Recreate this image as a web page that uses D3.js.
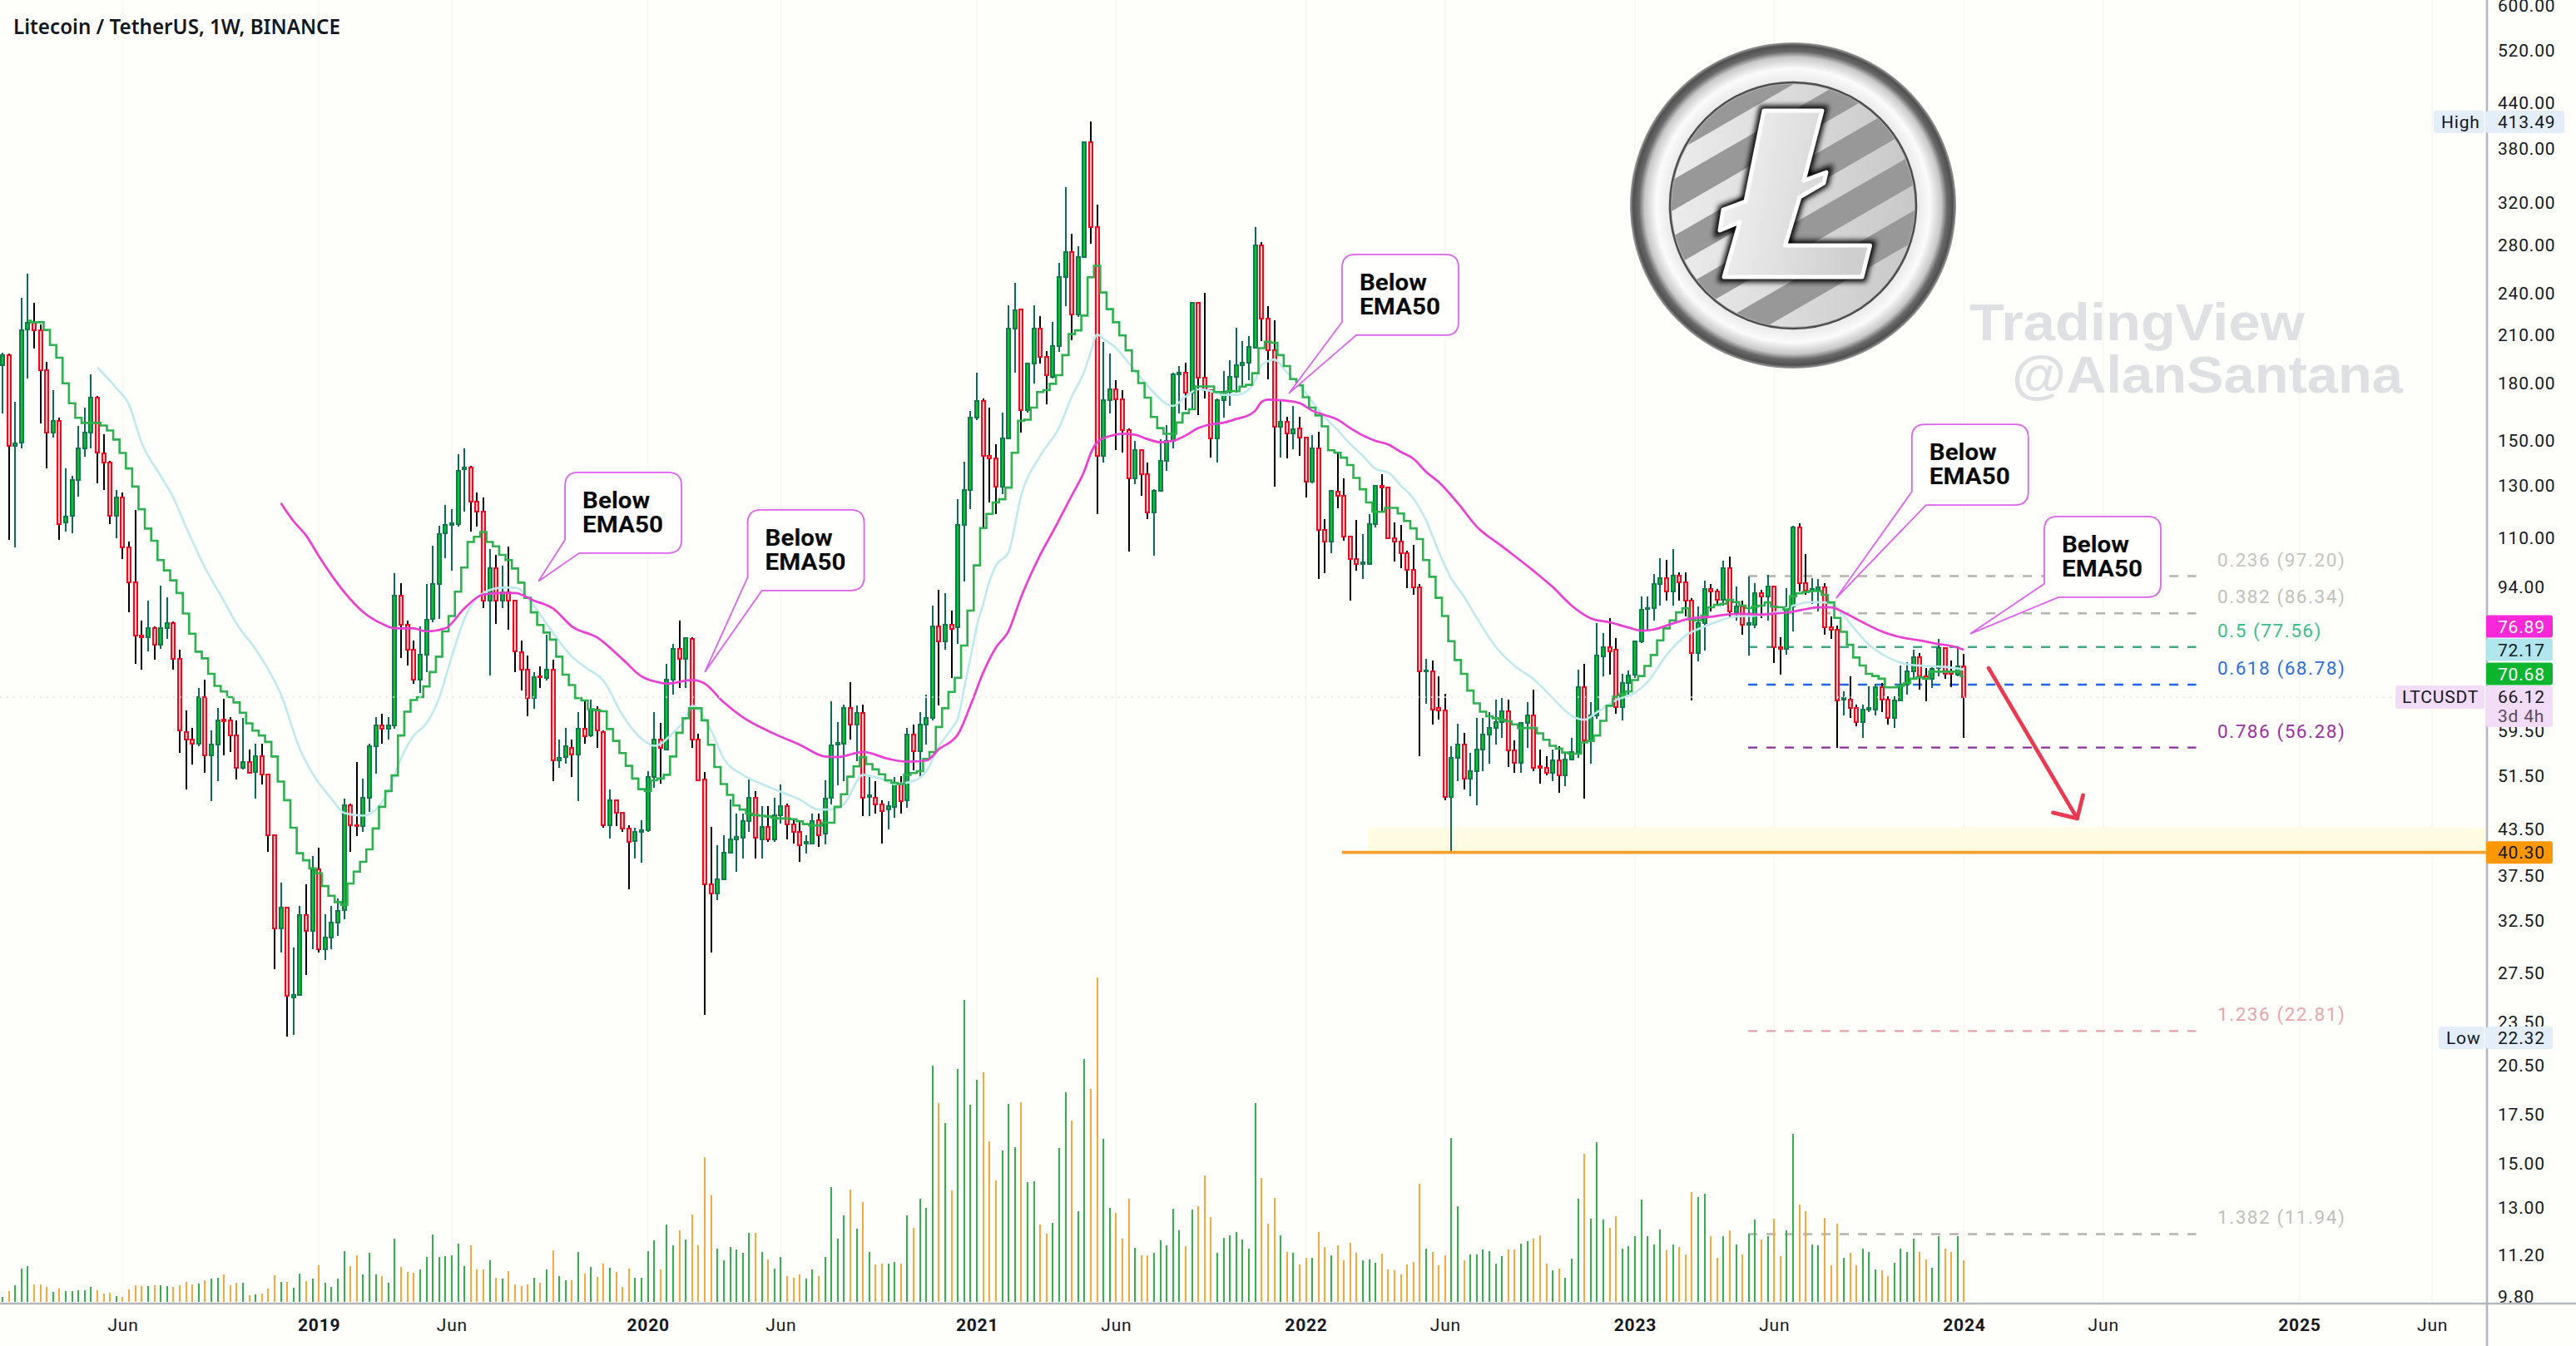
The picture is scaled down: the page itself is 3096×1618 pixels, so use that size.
<!DOCTYPE html>
<html><head><meta charset="utf-8">
<script src="https://cdnjs.cloudflare.com/ajax/libs/d3/7.8.5/d3.min.js"></script>
<style>
html,body{margin:0;padding:0;background:#fefffa;overflow:hidden}
svg{display:block}
.tk text{font-family:Roboto,sans-serif;font-size:21px;letter-spacing:.8px;fill:#131722}
.yr{font-weight:700}
</style></head><body><svg id="c" width="3096" height="1618"></svg>
<script>
const opens=[190.2,196.5,147.4,148.6,213.5,217.7,213,187.6,153.5,159.6,
115.2,117.9,132.2,146.2,153.5,171.9,143.9,139.7,117.9,124.8,
106.5,95.2,80.4,79.9,82.3,78.2,82.3,83.8,74.7,59.2,
57.8,57,66.1,54.9,56.8,61.6,61.3,58.5,52.8,53.7,
52.1,54.8,51.6,42.6,31.6,33.8,25.4,25.6,33,31.4,
38.2,29.6,30.7,32.2,33.5,46.8,44,43.8,47.9,56.6,
60.4,59.8,60.4,91.3,83.2,76.8,69.9,75.6,84.7,94.7,
111.3,114.4,114.6,136.5,137.4,123.3,119.4,89.9,99.6,89.9,
92.4,89.9,76.2,72.2,65.9,70.7,70.3,72.2,54.1,54.6,
56.3,55,59.7,58.5,63.6,59.2,43.9,47.6,45.7,43.5,
41.8,43,43.2,51.3,57.7,56,69.8,77.1,74.6,79.6,
57.7,50.8,36.4,35.4,37,40.3,42,42.2,44.5,48,
42,43.7,42,45.4,46.7,44.1,43,41.5,41.5,44.7,
42.8,48,56.9,57,63.8,60.6,62.8,48.1,48,46.9,
46.2,46.6,50.2,47.6,58.7,55.7,60.6,61.8,82.9,78.9,
83.3,82.5,114.5,127.8,161,169.9,142.6,141.3,129.4,150.9,
213.7,227.5,165.2,191.2,214,195.7,183.3,202.5,252.2,273,
224,269,387.3,295.6,142.6,170.3,176.2,170.6,154.9,132.8,
145.2,134.4,119.1,127.6,140.5,149.6,184.7,186,174.3,232,
183,175.9,150.9,170.3,174.8,183.3,190.5,191.7,201.5,278.6,
220.9,199.6,156.5,159,153,155.6,151.2,131.2,146.2,112.6,
108.6,127.2,125.4,110.3,102.6,100.9,101,114.8,129.7,128.8,
109.8,108.5,104.5,99.1,93.7,71.8,71.7,63.8,63.3,48.1,
54.5,56.8,51,52.2,55.9,58.7,60,61.1,63.2,55.8,
53.6,60.9,62.3,53,52.8,52,54.1,51.5,54.2,55.5,
68.3,57.6,62.3,75.3,77.5,76.9,64.1,69.2,71,79,
87.5,87.8,94.8,96.6,92.6,97.3,95.2,89.9,76.1,83.8,
93.2,92.6,90.2,99.8,86.7,88.3,83.3,83.3,92,91.2,
94.1,77.5,77,88.3,113.6,95,93,93.1,93.9,82.6,
81.9,65.6,65.6,63.9,61.1,63.5,63.6,68.3,65.6,61.8,
65.4,68.7,71.7,75,70.6,70,72.5,77.2,71.7,71,72.9];
const closes=[196.5,147.4,148.4,213,217.7,213,187.6,153.5,159.6,114.6,
117.4,132.2,146.2,153.5,171.9,144.1,139.7,117.9,125,106.5,
95.2,80.4,79.9,82.3,78.2,82.3,83.8,74.7,59.4,57.8,
57,66.1,54.9,56.8,61.4,61.2,58.5,52.8,53.7,52,
54.8,51.6,42.6,31.6,33.8,25.5,25.6,33,31.4,38.2,
29.6,30.7,32.2,33.4,46.8,43.9,43.9,47.9,56.5,60.4,
59.8,60.4,91.3,83.2,76.8,69.9,75.6,84.6,94.7,111.1,
114.4,115,136,137.4,123.3,119.4,89.8,99.6,89.9,92.4,
89.9,76.4,72.2,65.9,70.5,70.5,72.2,54,54.4,56.5,
55,59.7,58.4,63.6,59.4,43.9,47.6,45.7,43.5,41.7,
43,43.2,51.3,57.7,56.3,69.8,77.1,74.6,79.7,57.7,
50.7,36.4,35.4,37,40.3,42,42.3,44.5,48,42.2,
43.7,42,45.4,46.7,44.1,43,41.2,41.7,44.5,42.6,
47.8,56.7,57.1,63.8,60.6,62.8,47.9,48.3,46.9,46,
46.7,50.2,47.5,58.7,55.7,60.6,61.8,82.9,78.9,83.3,
82.2,114.5,127.8,161,169.9,142.6,141.3,129.4,150.9,213.7,
226.7,165.2,191.2,214,195.7,184.2,202.5,252.2,273,224,
269,387.3,295.6,142.6,170.3,176.2,170.6,154.9,132.8,145.2,
134.4,119.1,127.6,140.5,149.6,184.7,186,174.3,232,183,
175.9,150.9,170.3,174.8,183.3,190.5,191.7,201.7,278.6,220.9,
199.6,156.5,159,153,155.3,151.2,131.2,146.2,112.6,108.6,
127.6,125.4,110.3,102.6,100.9,101.5,114.8,129.7,128.8,109.8,
108.5,104.5,99.1,93.9,71.7,72,63.6,63.3,48.1,54.5,
56.8,51,52.2,55.9,58.7,60,61.1,63.2,55.8,53.6,
60.9,62.3,52.8,52.8,52,54.1,51.5,54.2,55.5,68.3,
57.6,62.3,75.5,77.5,76.5,64.1,69.2,70.9,79,87.4,
87.8,94.8,96.6,92.6,97.4,95.2,89.9,76.1,83.8,93.2,
92.6,90.2,99.8,86.8,88.3,83.3,83.6,92,91.2,94.1,
77.5,77,88,113.6,95,92.7,93.3,93.9,82.6,81.9,
65.4,65.9,63.9,61.1,63.6,63.8,68.3,65.6,61.8,65.4,
68.7,71.7,75,70.6,70,72.4,77.2,71.2,71.2,72.9,66.12];
const highs=[198,197.5,169.2,235.9,255,232.2,216.5,192.6,175.7,161,
137,133.8,156.7,166.5,185,172.5,152.8,140.5,128,126.9,
108.4,120,84.4,90,82.9,94.4,90.9,84.2,76.8,63.4,
59.9,68,69.8,59.5,63.9,65.8,62.1,61.4,61.9,56,
57,57,51.6,42.6,36.6,33.9,29.8,34,36.4,39.8,
40.9,33.1,34,34.8,47.8,47.1,53.7,51,57,62.1,
62.7,62.1,98.2,95,84.4,79.2,82.8,94.9,107,114,
121.9,120.3,143.2,146.2,138,127,124.8,106,104,100.4,
106.8,89.9,79.2,75.4,71.6,73,80.7,74.4,57.7,60,
57.7,63,65.5,65.5,64.2,59.4,49.3,47.6,45.8,44,
43.6,44.6,52.2,63,60.9,73.5,78.4,84.3,80.1,79.9,
58.8,52.1,43.7,41.2,42.6,47.7,45.6,45.6,50.8,49,
46.7,46.7,48,50,47.1,44.8,44.6,42.6,45.6,45.6,
50.7,65.2,61.1,64.6,69.3,64.3,64.5,51.2,50.6,47.6,
47.4,51.2,51.4,59.9,60.6,63,66.7,88.6,93,92,
87,124.2,140,164.7,186,171.3,166.3,147.9,163.8,230.7,
247.3,228,192,230.7,222.9,199.2,218.3,263.8,336,289.3,
278,388,413.5,317.8,205,197.8,181.6,176,155.8,149.4,
145.2,139.5,128.2,150.4,157.4,186,189.8,191.7,232.5,232.5,
240,176,171,187,193.2,214.4,205.8,209,295.6,281.7,
230,219.6,170.3,161.6,167,161.6,151.3,152.2,154,116.6,
128,143.9,132.8,110.5,116.2,111,118.3,130,134.4,129,
115.2,114.5,105.4,107.3,94.7,74.6,74.2,70.7,66.8,56.6,
60.8,59,55.3,61.9,61.9,63,65.6,66,65.6,57.6,
61,65.1,67.7,56,54.8,55.9,56.6,55.5,58,72.1,
73.4,65.1,83.8,81,85.1,79.8,71.2,72,79,91,
91.2,97.9,102.8,102.5,105.9,98.5,98.5,90.7,88.3,95.9,
94.7,93.3,102,103.5,94.1,89.9,97.1,95,93,97.7,
94.3,80,93.6,114,114.9,104.3,96.6,96.4,95,85.5,
83,67.4,70.7,64.5,64.5,68.4,69,69.1,66.3,66.3,
73.1,73.9,76.8,76.1,72.6,72.9,79.6,77.6,74.3,77.8,75.8];
const lows=[163.2,109,106.5,146.2,182.3,200.6,158,137,151.1,109.2,
111.9,111.3,125.3,142.3,146.2,130.5,128,114.6,109.8,102.7,
86.7,73.4,72.2,76.4,74.4,77,79.5,72.2,55.3,49.3,
53.3,56.6,52,47.4,50.6,54.9,55.5,50.8,52.5,51.8,
47.8,50,40.4,27.8,29.3,22.4,22.5,25.5,27.3,29.6,
29.3,28.6,29.6,30.9,32.6,40.4,42.4,43,45.8,51.8,
57,57.7,59.8,74.8,73.1,69,67,71.6,84,84.8,
103,99,113.7,119.4,111.9,113.7,87.7,70.9,83.5,87.7,
82,71.6,67.6,62.2,63.7,68,69.7,50.6,52.7,53.5,
51.2,47.4,57,58.2,56.3,43.6,42.1,43.8,43,35.8,
39.5,39,43,49.5,50.2,55.8,66.7,68,68,56.3,
50.6,24,29.3,34.6,36.9,40.2,37.9,39.5,43,39.5,
39.5,41.7,41.7,44.2,42,41.5,39.1,40.2,41.4,41,
41.3,46.9,49.9,50.6,57.8,53.9,45.3,45.3,45.6,41.4,
43.4,45,45.6,46.4,52.4,51.2,56.8,61.4,64.4,76.9,
70.3,78.4,95.5,120.4,160,113,123,118.6,126.2,150.4,
186,153.4,163.6,179.6,191.2,167.9,182.6,198.6,230,206.4,
222.1,268.6,280,118.3,139.7,163.2,145.2,144,105,130.4,
125.5,116.6,103.8,127.2,136,146,163.2,165.2,165.9,162.4,
171.3,141.8,139.7,161.2,167.2,174.3,177.8,181.3,200.7,205.8,
182.1,129.4,141.8,141.3,145.5,142.6,125,130.7,96.4,98,
104.5,120.8,108.7,90,99,96.4,100.9,113.4,119.7,109.5,
101.8,99.7,93.6,91.6,54.7,64.7,60.6,61.6,47.6,40.5,
50.6,49.3,48.2,46.8,52.2,53.4,56.9,58.1,52.9,52,
52,56.3,52.2,50.2,51.5,50.6,48.7,49.8,54.2,54.4,
47.8,53.4,61.7,70.7,71,62.7,61.3,66.7,70.2,78.6,
81.8,84.3,88.6,90,88.6,90,85.5,65.4,74.1,76.7,
86.9,88.7,88.5,85.1,84.3,80.7,75.4,82.3,85.1,84.3,
73.6,71,75.7,81.4,92.6,91.5,89,86.9,80.7,79.6,
56.2,62.3,61.9,60.2,58,63,62.4,63.1,60.6,59.9,
65.2,66.6,70.1,67.7,65.3,68.1,70.7,70,68.3,70.7,58];
const volumes=[1.9,3.9,6.1,12.1,13,6.4,6.4,5.4,3.6,4.8,
4,4,4.3,4.3,5.4,4.1,3.1,3.4,2.1,1.9,
4.4,6.1,5.8,5.8,6.1,6.1,5.6,5.3,6.1,7.3,
6.4,6.6,7.9,8.4,8.6,9.8,6.1,6.8,6.8,2.3,
2.6,2.9,4.9,9.6,7.3,7.1,5.1,10.3,7.6,8.3,
13.1,6.9,5.4,8.3,18.4,12.8,16.9,9.8,17.8,9.8,
9.4,6.8,22.9,12.6,10.9,10.6,11.6,16.3,24.4,16.3,
16.6,16.8,21.1,12.9,20.3,11.6,11.8,15.1,8.8,8.3,
11.1,6.4,5.6,6.4,8.8,6.8,11.6,18.6,9.4,7.8,
7.9,17.9,10.3,12.6,9.1,13.9,12.4,10.9,5.3,11.9,
8.6,8.8,18.4,22.3,11.6,27.9,20.4,25.9,22.6,31.6,
20.3,52.3,38.3,19.3,15.1,19.8,18.9,17.8,24.8,24.8,
18.1,15.4,12.1,16.3,9.4,8.8,9.8,8.3,11.6,9.4,
16.3,41.3,22.9,31.3,40.4,26.3,35.9,18.1,13.6,13.9,
13.9,14.4,13.9,31.3,26.6,37.3,33.8,85.3,71.9,64.6,
40.1,84.1,109.1,71.3,80.3,83,57.8,43.9,54.6,71.4,
55.9,72.1,43.3,43.6,27.8,24.6,28.6,55.6,75.6,65.6,
32.6,87.6,76.9,117.1,58.8,33.9,32.1,22.9,37.1,19.6,
16.9,16.9,17.8,22.1,20.4,33.6,25.9,20.1,33.4,34.6,
45.6,30.6,17.6,23.1,24.1,25.1,22.6,19.1,71.8,44.6,
28.3,37.4,24.1,18.1,17.8,13.4,15.9,15.9,25.3,19.9,
16.9,20.3,15.1,21.4,17.6,15.1,15.4,14.1,17.3,11.8,
11.3,9.9,13.4,14.4,42.6,19.3,17.9,13.3,16.9,59.1,
34.6,15.1,17.1,17.1,18.9,18.3,13.9,16.4,18.9,18.8,
21.1,21.9,22.9,24.1,13.9,11.3,12.1,8.8,15.6,37.1,
53.3,30.1,57.6,29.8,26.8,30.8,19.3,20.1,23.8,36.9,
23.8,20.8,26.1,18.6,20.8,19.9,17.1,39.6,37.8,39.1,
23.8,15.9,23.8,25.9,20.8,17.1,24.6,29.8,22.4,23.8,
30.1,16.6,25.8,60.8,35.1,32.8,20.8,20.4,30.4,13.3,
28.3,15.9,17.6,13.3,19.3,17.9,11.8,11.4,9.4,14.1,
19.3,18.1,22.9,17.9,15.4,12.4,23.8,19.1,18.1,23.8,15.1];
const emaGreenStart=4;
const emaGreen=[219.4,218.3,218.3,213,203,195,
179.7,168.6,161,158.4,158.4,158.4,157.1,154.6,150.2,143.9,
137,129.3,120.3,113.1,108.8,102.3,99,95.9,92.1,86.3,
80.9,76.4,74.8,71.2,68.5,67.3,66.1,65,62.9,60.8,
59.4,58.5,57.3,54.7,50.5,47.6,43.6,40.2,39.3,38.3,
37.7,36.2,35.1,34.4,34.1,36.5,37.9,39.1,40.7,43.5,
46.6,49,51.5,58.5,63.1,65.5,66.1,68.4,71.6,75.2,
81.5,85.6,92.5,99.9,108.4,110.2,111.9,108.4,106.9,104,
102.3,99.6,95.2,90.7,86.6,83.2,81.2,79.4,75.2,71,
68.7,65.9,65.4,63.6,63.4,63.2,59.7,57.5,55.3,53.1,
51,49.3,49,50.7,51,51.6,54.7,59,61.8,63.8,
63.8,61.4,56.8,52.9,50.1,48.4,46.8,46.2,45.6,45.4,
45.3,45.2,45,44.9,44.9,44.8,44.5,44.1,43.9,43.9,
44.3,44.3,46.6,48.5,51.3,53,54.6,53.4,52.5,51.7,
50.7,50.3,50.1,51.6,51.9,52.2,54.3,55.5,60.1,63.8,
67.2,70.3,77.9,87.1,100.6,113.3,118.5,122.9,124.2,128.9,
144,159.5,160,166.3,174.8,175.8,179.4,184.4,196.6,210.2,
212.7,223,252,261.3,240,227.6,218.3,209.3,199.6,186.9,
179.8,171.7,161.4,155.8,153,153,158.6,163.4,165.4,177.9,
177.9,177.9,174.8,174.4,175.3,175.3,177.8,178.8,185.6,201,
205.2,204.5,196.6,189.9,182.1,178.5,171.9,166.3,162.2,156.7,
145.2,144,141.8,138.5,132.9,128.2,122.9,119.3,119.3,120.8,
120.8,118.7,115.9,113.2,109.4,102.3,97,90.7,85.6,79,
74.4,71.2,67.5,64.8,63.1,62.2,61.8,61.5,61.2,60.6,
59.9,59.9,59.9,58.9,57.7,56.6,56.1,55.4,55.2,55.2,
57.2,57.5,58.5,61.3,64.3,66.2,66.7,67.3,69.8,70.7,
73,75.6,79.2,82.3,84.4,86.6,87.8,84.6,84.4,85.7,
88,88.7,89,90.1,89.5,88.5,87.8,88.2,88.5,89.4,
88.2,88,87.4,91.2,92,92.4,92.7,92.7,91.6,89.4,
85.1,81.4,78.1,75,73.1,71.2,70.7,70.1,68.2,68.2,
68.5,69.1,70.1,70.4,70.1,71.7,71.7,71.7,71.7,71.7,70.68];
const emaBlueWeeks=[15,18,20,22,25,27,29,32,35,37,40,42,44,47,49,52,54,57,59,61,63,65,67,69,71,73,75,76,79,81,84,86,90,92,95,98,101,103,106,108,109,112,114,117,120,123,126,129,131,133,136,139,141,144,146,148,150,151,152,153,154,155,156,157,159,161,164,167,169,171,172,173,174,176,178,180,182,184,185,187,189,191,193,195,197,198,199,200,201,203,205,207,209,211,213,215,217,219,221,223,225,227,229,231,233,236,239,242,245,248,250,252,255,258,260,263,266,269,271,274,277,280,283,286,288,290,292,295,298,301,304,307,310];
const emaBlue=[189,177,167.8,148.6,133.8,124.8,113.7,99.9,89.8,83.5,77,72.2,66.7,56,51.8,47.8,45.7,45.3,46.2,49,54.4,58.5,60.8,65.9,75.2,84.8,90.7,92.1,93.7,93.7,88.4,83.5,75.2,72.8,69.6,62.4,57.9,56.6,59,61.8,64.3,59.4,54.3,51.6,50.1,48.9,47.7,46.2,46.2,47,51.6,50.9,50.1,50.6,52.2,56.5,59.8,61.8,68,75,83,89,95.7,100.5,105,125.7,142.6,156.1,172.3,186.9,198.6,210,207,201,191.7,182.6,174.3,168.2,167.2,172.3,176.3,175.3,173.2,173.2,176.3,181.6,190.5,192.8,193.9,186,178.8,169.4,161.2,154.9,148.1,142.6,136.8,135.2,129.7,124.5,116,105,96.4,91,85.1,77.6,73,70,65.9,62.3,61.5,63,65.5,67,69.4,75.6,80.4,82.8,84.1,85.5,85.7,86.5,88.5,89.5,89.4,87.8,83.6,78.1,75,73.4,73,72.8,72.17];
const emaPinkWeeks=[44,46,48,50,52,54,57,60,62,65,67,70,73,76,79,81,84,87,90,94,98,101,104,105,109,111,114,117,122,126,130,132,136,140,143,146,148,151,153,155,157,159,161,164,166,169,171,172,173,175,177,179,181,183,185,187,189,191,193,195,197,198,199,200,202,205,207,209,211,213,215,217,219,221,223,225,227,230,233,237,242,245,248,251,254,257,259,261,264,267,270,272,275,278,281,283,285,287,289,291,294,297,300,303,306,308,310];
const emaPink=[122.7,115.8,110.6,103.6,97.5,92.4,86.7,83.5,82.3,82.3,81.5,82.3,87.7,91.7,92.1,92.1,89.9,87.7,82.8,79.9,74.6,70.6,69.2,69,69.8,69,65,62,58.8,56.8,54.7,54.6,55.5,54.3,53.8,54,56,58.7,64.4,71.5,77.4,81.6,91,104,112,125.7,136,143.8,148.9,151.9,153,152.5,150.4,148.9,149.6,152.2,155.8,157.7,158.5,160.4,162.4,164.7,169.4,170.6,170.3,168.7,164.7,162.4,160.1,155.8,152.2,149.6,147.9,144.4,141.3,135.5,131.2,122.7,113.8,106.9,98.8,93.9,88.5,85,83.9,82.5,81.7,82,83.6,85,85.4,85.9,86.2,86,86.4,86.8,87.5,88,88,86.6,83.9,81.5,80,79.2,78.3,77.8,76.89];
const priceTicks=[600,520,440,380,320,280,240,210,180,150,130,110,94,59.5,51.5,43.5,37.5,32.5,27.5,23.5,20.5,17.5,15,13,11.2,9.8];
const timeTickDates=["2018-06-04","2019-01-07","2019-06-03","2020-01-06","2020-06-01","2021-01-04","2021-06-07","2022-01-03","2022-06-06","2023-01-02","2023-06-05","2024-01-01","2024-06-03","2025-01-06","2025-06-02"];
const fibLevels=["0.236","0.382","0.5","0.618","0.786","1.236","1.382"];
const fibPrices=[97.20,86.34,77.56,68.78,56.28,22.81,11.94];
const fibLineColors=["#b4b4ac","#b4b4ac","#3fa985","#1a66ee","#8e2c9e","#e8a0a8","#b4b4ac"];
const fibTextColors=["#c4c4c0","#c0c0bc","#3dbd8d","#2e6fe0","#9b30a8","#eba5aa","#c0c0bc"];
const calloutWeeks=[84.7,111,203.3,289.8,311];
const calloutPrices=[95.6,71.6,174,90.6,80.9];
const calloutDx=[32,51.5,64,91,89];
const calloutDy=[-131,-195,-167,-209,-141];
const lastPrice=66.12, supportPrice=40.30, zoneTopPrice=43.6;
const supportLineStartWeek=211.7, zoneStartWeek=215.8, fibStartWeek=275.9, fibEndWeek=346.7;
const arrowStart=[313.9,72.5], arrowTip=[327.9,44.9];

const W=3096,H=1618,axisX=2989,axisY=1567;
const weekMs=7*864e5, t0=Date.UTC(2018,0,22);
const weekDate=i=>new Date(t0+i*weekMs);
const x=d3.scaleUtc().domain([weekDate(0),weekDate(310)]).range([3,2360.4]);
const xw=i=>x(weekDate(i));
const xr=i=>Math.round(xw(i));
const y=d3.scaleLog().domain([600,9.8]).range([6,1558]);
const yv=d3.scaleLinear().domain([0,117.1]).range([1565,1175]);
const svg=d3.select("#c");
const defs=svg.append("defs");
svg.append("rect").attr("width",W).attr("height",H).attr("fill","#fefffa");

// grid
const tickDates=timeTickDates.map(s=>new Date(s+"T00:00:00Z"));
svg.append("g").selectAll("line").data(tickDates).join("line")
 .attr("x1",d=>x(d)).attr("x2",d=>x(d)).attr("y1",0).attr("y2",axisY)
 .attr("stroke","#f8f8f0").attr("stroke-width",2);

// zone
svg.append("rect").attr("x",xw(zoneStartWeek)).attr("y",y(zoneTopPrice))
 .attr("width",axisX-xw(zoneStartWeek)).attr("height",y(supportPrice)-y(zoneTopPrice)).attr("fill","#fffce3");

// fib
const fg=svg.append("g");
fibPrices.forEach((p,i)=>{
 fg.append("line").attr("x1",xw(fibStartWeek)).attr("x2",xw(fibEndWeek)).attr("y1",y(p)).attr("y2",y(p))
  .attr("stroke",fibLineColors[i]).attr("stroke-width",2.4).attr("stroke-dasharray","11 11");
 fg.append("text").attr("x",2665).attr("y",y(p)-12).attr("fill",fibTextColors[i])
  .attr("font-family","Roboto,sans-serif").attr("font-size",22.5).attr("letter-spacing",1.55)
  .text(`${fibLevels[i]} (${p.toFixed(2)})`);
});

// volume
const idx=d3.range(opens.length);
const isUp=i=>closes[i]>=opens[i];
svg.append("g").attr("shape-rendering","crispEdges").selectAll("rect").data(idx).join("rect")
 .attr("x",i=>xr(i)-1).attr("width",2).attr("y",i=>yv(volumes[i])).attr("height",i=>yv(0)-yv(volumes[i]))
 .attr("fill",i=>isUp(i)?"#35b04c":"#f5a83e");

// candles
const cg=svg.append("g").attr("shape-rendering","crispEdges");
cg.selectAll("line").data(idx).join("line")
 .attr("x1",i=>xr(i)).attr("x2",i=>xr(i)).attr("y1",i=>y(highs[i])).attr("y2",i=>y(lows[i]))
 .attr("stroke",i=>isUp(i)?"#0e6a58":"#000").attr("stroke-width",2);
cg.selectAll("rect").data(idx).join("rect")
 .attr("x",i=>xr(i)-2).attr("width",4)
 .attr("y",i=>y(Math.max(opens[i],closes[i])))
 .attr("height",i=>Math.max(1.5,Math.abs(y(opens[i])-y(closes[i]))))
 .attr("fill",i=>isUp(i)?"#0bc52b":"#ffc8c8")
 .attr("stroke",i=>isUp(i)?"#0f7a4d":"#f0081e").attr("stroke-width",2);

// EMAs
const pts=(ws,vs)=>ws.map((w,i)=>[xw(w),y(vs[i])]);
const smooth=d3.line().curve(d3.curveMonotoneX);
svg.append("path").attr("d",smooth(pts(emaBlueWeeks,emaBlue))).attr("fill","none").attr("stroke","#bfe9ee").attr("stroke-width",2.6);
const greenPts=emaGreen.map((v,i)=>[xw(i+emaGreenStart),y(v)]);
svg.append("path").attr("d",d3.line().curve(d3.curveStep)(greenPts)).attr("fill","none").attr("stroke","#2db14e").attr("stroke-width",2.6);
svg.append("path").attr("d",smooth(pts(emaPinkWeeks,emaPink))).attr("fill","none").attr("stroke","#ea3fd2").attr("stroke-width",2.7);

// current price dotted + support line
svg.append("line").attr("x1",0).attr("x2",axisX).attr("y1",y(lastPrice)).attr("y2",y(lastPrice))
 .attr("stroke","#e2e2de").attr("stroke-width",1.5).attr("stroke-dasharray","2 6");
svg.append("line").attr("x1",xw(supportLineStartWeek)).attr("x2",axisX).attr("y1",y(supportPrice)).attr("y2",y(supportPrice))
 .attr("stroke","#f5a02e").attr("stroke-width",3.8);

// arrow
const tip=[xw(arrowTip[0]),y(arrowTip[1])], st=[xw(arrowStart[0]),y(arrowStart[1])];
const ag=svg.append("g").attr("fill","none").attr("stroke","#e83a50").attr("stroke-width",4.8).attr("stroke-linecap","round");
ag.append("line").attr("x1",st[0]).attr("y1",st[1]).attr("x2",tip[0]).attr("y2",tip[1]);
ag.append("path").attr("d",`M${tip[0]-29},${tip[1]-7}L${tip[0]},${tip[1]}L${tip[0]+7},${tip[1]-28}`).attr("stroke-linejoin","round");

// logo
(function(){
 const cx=2155,cy=247;
 const g=svg.append("g");
 const rg=(id,stops)=>{const d=defs.append("radialGradient").attr("id",id).attr("gradientUnits","userSpaceOnUse").attr("cx",cx).attr("cy",cy).attr("r",196);
  stops.forEach(s=>d.append("stop").attr("offset",s[0]).attr("stop-color",s[1]));};
 rg("ringG",[[0,"#fff"],[.74,"#e6e6e6"],[.84,"#fbfbfb"],[.91,"#c8c8c8"],[.945,"#686868"],[.98,"#505050"],[1,"#a0a0a0"]]);
 g.append("circle").attr("cx",cx).attr("cy",cy).attr("r",196).attr("fill","url(#ringG)");
 g.append("circle").attr("cx",cx).attr("cy",cy).attr("r",148).attr("fill","#b8b8b8").attr("stroke","#4d4d4d").attr("stroke-width",2.5);
 defs.append("clipPath").attr("id","disc").append("circle").attr("cx",cx).attr("cy",cy).attr("r",146);
 const lg=defs.append("linearGradient").attr("id","lightB").attr("x1",0).attr("x2",1).attr("y1",0).attr("y2",0);
 lg.append("stop").attr("offset",0).attr("stop-color","#ececec");lg.append("stop").attr("offset",1).attr("stop-color","#c8c8c8");
 const dg=g.append("g").attr("clip-path","url(#disc)");
 dg.append("circle").attr("cx",cx).attr("cy",cy).attr("r",146).attr("fill","url(#lightB)");
 const st=dg.append("g").attr("transform",`rotate(-30 ${cx} ${cy})`);
 [-142,-83,-24,35,94].forEach(v=>st.append("rect").attr("x",cx-220).attr("width",440).attr("y",cy+v-16).attr("height",32).attr("fill","#989898"));
 const L=[[2120,133],[2190,133],[2168,217],[2195,207],[2192,220],[2163,237],[2145.5,295],[2247.6,295],[2238,333],[2072,333],[2091,267],[2067,277],[2071,252],[2098,242]];
 const ds=defs.append("filter").attr("id","lsh").attr("x","-20%").attr("y","-20%").attr("width","140%").attr("height","140%");
 ds.append("feGaussianBlur").attr("stdDeviation",3);
 g.append("polygon").attr("points",L.join(" ")).attr("fill","#000").attr("stroke","#000").attr("stroke-width",12).attr("filter","url(#lsh)");
 const lf=defs.append("linearGradient").attr("id","lfill").attr("x1",0).attr("y1",0).attr("x2",1).attr("y2",.2);
 lf.append("stop").attr("offset",0).attr("stop-color","#f4f4f4");lf.append("stop").attr("offset",1).attr("stop-color","#cfcfcf");
 g.append("polygon").attr("points",L.join(" ")).attr("fill","url(#lfill)").attr("stroke","#fff").attr("stroke-width",5).attr("stroke-linejoin","round");
})();

// watermark
const wm=svg.append("g").attr("fill","#dfe0e4").attr("font-family","'Liberation Sans',Arial,sans-serif").attr("font-weight",700).attr("font-size",63);
wm.append("text").attr("x",2367).attr("y",409).attr("textLength",403).attr("lengthAdjust","spacingAndGlyphs").text("TradingView");
wm.append("text").attr("x",2418).attr("y",472).attr("textLength",470).attr("lengthAdjust","spacingAndGlyphs").text("@AlanSantana");

// callouts
const boxW=140,boxH=97,r=16;
calloutWeeks.forEach((w,i)=>{
 const tx=xw(w),ty=y(calloutPrices[i]),bx=tx+calloutDx[i],by=ty+calloutDy[i];
 const p=`M${bx+r},${by}H${bx+boxW-r}Q${bx+boxW},${by} ${bx+boxW},${by+r}V${by+boxH-r}Q${bx+boxW},${by+boxH} ${bx+boxW-r},${by+boxH}H${bx+17}L${tx},${ty}L${bx},${by+81}V${by+r}Q${bx},${by} ${bx+r},${by}Z`;
 svg.append("path").attr("d",p).attr("fill","#fffffe").attr("stroke","#dd62ee").attr("stroke-width",1.8);
 const t=svg.append("g").attr("font-family","Roboto,sans-serif").attr("font-weight",700).attr("font-size",28).attr("fill","#0a0a0a");
 t.append("text").attr("x",bx+21).attr("y",by+43).attr("textLength",81).attr("lengthAdjust","spacingAndGlyphs").text("Below");
 t.append("text").attr("x",bx+21).attr("y",by+72).attr("textLength",97).attr("lengthAdjust","spacingAndGlyphs").text("EMA50");
});

// axes
const yAxis=d3.axisRight(y).tickValues(priceTicks).tickFormat(d3.format(".2f")).tickSize(0).tickPadding(13);
const ya=svg.append("g").attr("class","tk").attr("transform",`translate(${axisX},0)`).call(yAxis);
ya.select(".domain").remove();
ya.selectAll("text").attr("dy","0.36em");
const xAxis=d3.axisBottom(x).tickValues(tickDates).tickSize(0).tickPadding(0)
 .tickFormat(d=>d.getUTCMonth()===0?String(d.getUTCFullYear()):"Jun");
const xa=svg.append("g").attr("class","tk").attr("transform",`translate(0,${axisY})`).call(xAxis);
xa.select(".domain").remove();
xa.selectAll("text").attr("y",25).attr("dy","0.36em").classed("yr",d=>d.getUTCMonth()===0).attr("text-anchor","middle");
svg.append("line").attr("x1",0).attr("x2",W).attr("y1",axisY).attr("y2",axisY).attr("stroke","#b4b6c0").attr("stroke-width",2.6);
svg.append("line").attr("x1",axisX).attr("x2",axisX).attr("y1",0).attr("y2",H).attr("stroke","#b4b6c0").attr("stroke-width",2.6);

// price tags
const tags=[
 {v:"413.49",price:413.49,name:"High",x2:3082,bg:"#e3eefa",fg:"#131722",nameX:2925},
 {v:"76.89",yc:753,bg:"#f728d8",fg:"#fff",x2:3068},
 {v:"72.17",yc:781,bg:"#b2e6ee",fg:"#131722",x2:3068},
 {v:"70.68",yc:810,bg:"#0db52e",fg:"#fff",x2:3068},
 {v:"40.30",price:40.30,bg:"#ff9800",fg:"#131722",x2:3068},
 {v:"22.32",price:22.32,name:"Low",x2:3068,bg:"#e3eefa",fg:"#131722",nameX:2931}
];
const tagG=svg.append("g").attr("font-family","Roboto,sans-serif").attr("font-size",21).attr("letter-spacing",.8);
tagG.append("rect").attr("x",2988).attr("y",824).attr("width",80).attr("height",50).attr("rx",3).attr("fill","#f3dcf8");
tagG.append("text").attr("x",3002).attr("y",y(lastPrice)+7.5).attr("fill","#131722").text(lastPrice.toFixed(2));
tagG.append("text").attr("x",3002).attr("y",868).attr("fill","#5a4a60").text("3d 4h");
tagG.append("rect").attr("x",2879).attr("y",824).attr("width",107).attr("height",28).attr("rx",3).attr("fill","#f3dcf8");
tagG.append("text").attr("x",2887).attr("y",y(lastPrice)+7.5).attr("fill","#131722").text("LTCUSDT");
tags.forEach(t=>{
 const yc=t.yc!==undefined?t.yc:y(t.price);
 tagG.append("rect").attr("x",2988).attr("y",yc-13.5).attr("width",t.x2-2988).attr("height",27).attr("rx",3).attr("fill",t.bg);
 tagG.append("text").attr("x",3002).attr("y",yc+7.5).attr("fill",t.fg).text(t.v);
 if(t.name){
  tagG.append("rect").attr("x",t.nameX).attr("y",yc-13.5).attr("width",2986-t.nameX).attr("height",27).attr("rx",3).attr("fill",t.bg);
  tagG.append("text").attr("x",t.nameX+9).attr("y",yc+7.5).attr("fill",t.fg).text(t.name);
 }
});

// title
svg.append("text").attr("x",16).attr("y",41).attr("font-family","'Noto Sans',sans-serif").attr("font-weight",600).attr("font-size",25.5)
 .attr("fill","#131722").attr("textLength",393).attr("lengthAdjust","spacingAndGlyphs").text("Litecoin / TetherUS, 1W, BINANCE");
</script></body></html>
